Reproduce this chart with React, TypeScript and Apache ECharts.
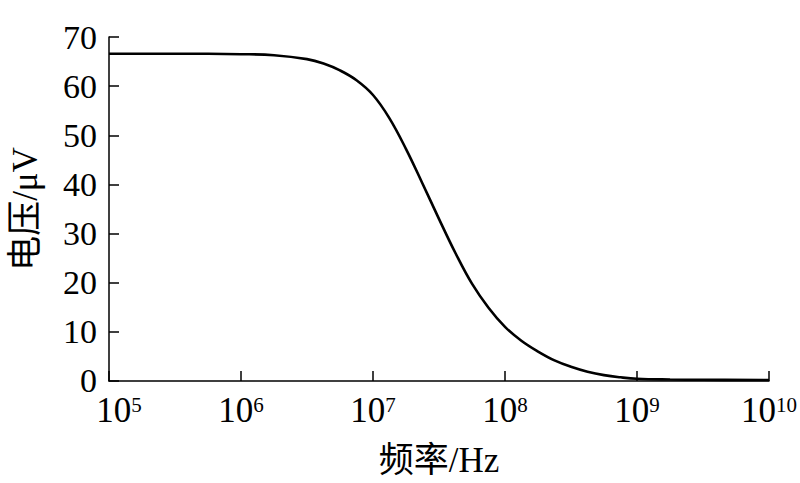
import React, { useEffect, useRef } from "react";
import * as echarts from "echarts";

const frequencies = [
  1e5, 3.16e5, 1e6, 1.78e6, 3.16e6, 4.22e6, 5.62e6, 7.5e6, 1e7, 1.33e7,
  1.78e7, 2.37e7, 3.16e7, 4.22e7, 5.62e7, 7.5e7, 1e8, 1.33e8, 1.78e8, 2.37e8,
  3.16e8, 4.22e8, 5.62e8, 7.5e8, 1e9, 1.78e9, 3.16e9, 1e10,
];
const voltages = [
  66.6, 66.6, 66.5, 66.3, 65.5, 64.6, 63.2, 61.2, 58.2, 53.5,
  47.2, 40.2, 33.0, 26.0, 19.8, 14.9, 11.0, 8.2, 6.0, 4.2,
  2.9, 1.9, 1.2, 0.75, 0.45, 0.3, 0.25, 0.2,
];
const yTicks = [0, 10, 20, 30, 40, 50, 60, 70];
const xAxisName = "频率/Hz";
const yAxisName = "电压/μV";

const FONT = "'Liberation Serif', 'Noto Sans CJK SC', serif";

export default function App() {
  const ref = useRef<HTMLDivElement>(null);
  useEffect(() => {
    if (!ref.current) return;
    const chart = echarts.init(ref.current, null, { renderer: "svg" });
    const data = frequencies.map((f, i) => [f, voltages[i]]);
    chart.setOption({
      animation: false,
      backgroundColor: "#fff",
      grid: { left: 104, right: 24, top: 37, bottom: 101, containLabel: false },
      xAxis: {
        type: "log",
        logBase: 10,
        min: 1e5,
        max: 1e10,
        name: xAxisName,
        nameLocation: "middle",
        nameGap: 62,
        nameTextStyle: { fontFamily: FONT, fontSize: 35, color: "#000" },
        axisLine: { show: true, lineStyle: { color: "#000", width: 1.5 } },
        axisTick: { show: true, inside: true, length: 10, lineStyle: { color: "#000", width: 1.5 } },
        minorTick: { show: false },
        splitLine: { show: false },
        axisLabel: {
          margin: 15,
          color: "#000",
          fontFamily: FONT,
          fontSize: 35,
          lineHeight: 30,
          formatter: (v: number, idx: number) => {
            const e = Math.round(Math.log10(v));
            return idx === 0 ? `{f|10}{s|${e}}` : `10{s|${e}}`;
          },
          rich: {
            f: { fontFamily: FONT, fontSize: 35, lineHeight: 30, color: "#000", padding: [0, 0, 0, 20] },
            s: { fontFamily: FONT, fontSize: 21, lineHeight: 30, color: "#000", padding: [0, 0, 12, 0] },
          },
        },
      },
      yAxis: {
        type: "value",
        min: yTicks[0],
        max: yTicks[yTicks.length - 1],
        interval: 10,
        name: yAxisName,
        nameLocation: "middle",
        nameGap: 66,
        nameRotate: 90,
        nameTextStyle: { fontFamily: FONT, fontSize: 35, color: "#000" },
        axisLine: { show: true, lineStyle: { color: "#000", width: 1.5 } },
        axisTick: { show: true, inside: true, length: 10, lineStyle: { color: "#000", width: 1.5 } },
        splitLine: { show: false },
        axisLabel: { margin: 12, color: "#000", fontFamily: FONT, fontSize: 34, lineHeight: 26 },
      },
      series: [
        {
          type: "line",
          data,
          smooth: 0.4,
          showSymbol: false,
          lineStyle: { color: "#000", width: 2.6 },
        },
      ],
    });
    return () => chart.dispose();
  }, []);
  return (
    <div
      ref={ref}
      style={{ position: "absolute", left: 0, top: 0, width: 800, height: 483 }}
    />
  );
}
